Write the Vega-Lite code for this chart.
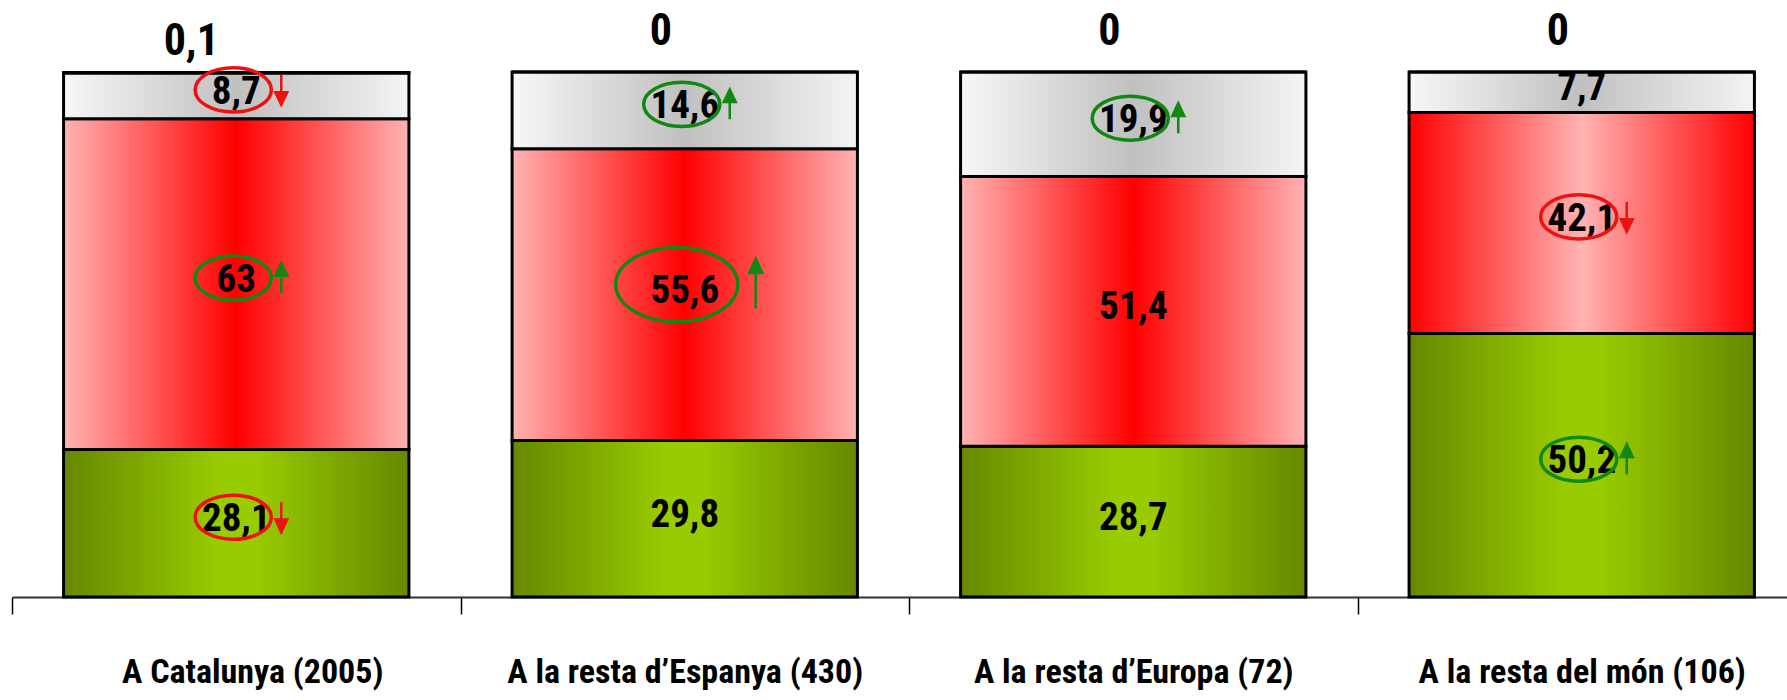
{
  "$schema": "https://vega.github.io/schema/vega-lite/v6.json",
  "autosize": "none",
  "width": 1775,
  "height": 525,
  "padding": {"left": 12, "right": 0, "top": 72, "bottom": 103},
  "background": "white",
  "config": {
    "view": {"stroke": null},
    "locale": {"number": {"decimal": ",", "thousands": ".", "grouping": [3], "currency": ["", " €"]}}
  },
  "data": {
    "values": [
      {"cat": "A Catalunya (2005)", "seg": "verd", "ord": 1, "value": 28.1, "trend": "down"},
      {"cat": "A Catalunya (2005)", "seg": "vermell", "ord": 2, "value": 63, "trend": "up"},
      {"cat": "A Catalunya (2005)", "seg": "gris", "ord": 3, "value": 8.7, "trend": "down"},
      {"cat": "A Catalunya (2005)", "seg": "altres", "ord": 4, "value": 0.1, "trend": null},
      {"cat": "A la resta d’Espanya (430)", "seg": "verd", "ord": 1, "value": 29.8, "trend": null},
      {"cat": "A la resta d’Espanya (430)", "seg": "vermell", "ord": 2, "value": 55.6, "trend": "up"},
      {"cat": "A la resta d’Espanya (430)", "seg": "gris", "ord": 3, "value": 14.6, "trend": "up"},
      {"cat": "A la resta d’Espanya (430)", "seg": "altres", "ord": 4, "value": 0, "trend": null},
      {"cat": "A la resta d’Europa (72)", "seg": "verd", "ord": 1, "value": 28.7, "trend": null},
      {"cat": "A la resta d’Europa (72)", "seg": "vermell", "ord": 2, "value": 51.4, "trend": null},
      {"cat": "A la resta d’Europa (72)", "seg": "gris", "ord": 3, "value": 19.9, "trend": "up"},
      {"cat": "A la resta d’Europa (72)", "seg": "altres", "ord": 4, "value": 0, "trend": null},
      {"cat": "A la resta del món (106)", "seg": "verd", "ord": 1, "value": 50.2, "trend": "up"},
      {"cat": "A la resta del món (106)", "seg": "vermell", "ord": 2, "value": 42.1, "trend": "down"},
      {"cat": "A la resta del món (106)", "seg": "gris", "ord": 3, "value": 7.7, "trend": null},
      {"cat": "A la resta del món (106)", "seg": "altres", "ord": 4, "value": 0, "trend": null}
    ]
  },
  "transform": [
    {"stack": "value", "groupby": ["cat"], "sort": [{"field": "ord", "order": "ascending"}], "as": ["y0", "y1"]},
    {"fold": ["y0", "y1"], "as": ["edge", "pos"]},
    {"aggregate": [
      {"op": "mean", "field": "pos", "as": "mid"},
      {"op": "min", "field": "pos", "as": "lo"},
      {"op": "max", "field": "pos", "as": "hi"}
    ], "groupby": ["cat", "seg", "ord", "value", "trend"]}
  ],
  "encoding": {
    "x": {
      "field": "cat",
      "type": "nominal",
      "sort": ["A Catalunya (2005)", "A la resta d’Espanya (430)", "A la resta d’Europa (72)", "A la resta del món (106)"],
      "scale": {"range": [0, 1794], "paddingInner": 0, "paddingOuter": 0},
      "axis": {
        "title": null,
        "tickBand": "extent",
        "tickSize": 17,
        "tickColor": "#000",
        "tickWidth": 1.5,
        "domainColor": "#333",
        "domainWidth": 2,
        "labelFont": "Roboto Condensed",
        "labelFontSize": 34,
        "labelFontWeight": "bold",
        "labelColor": "#000",
        "labelPadding": 41,
        "labelOffset": {"condition": {"test": "datum.value == 'A Catalunya (2005)'", "value": 16}, "value": 0},
        "labelAngle": 0,
        "labelLimit": 0
      }
    }
  },
  "layer": [
    {
      "transform": [{"filter": "datum.seg == 'verd'"}],
      "mark": {"type": "bar", "width": {"band": 0.77}, "stroke": "#000", "strokeWidth": 3,
        "fill": {"gradient": "linear", "x1": 0, "y1": 0, "x2": 1, "y2": 0,
          "stops": [{"offset": 0, "color": "#668800"}, {"offset": 0.45, "color": "#99CC00"}, {"offset": 0.55, "color": "#99CC00"}, {"offset": 1, "color": "#668800"}]}},
      "encoding": {
        "y": {"field": "lo", "type": "quantitative", "scale": {"domain": [0, 100], "nice": false}, "axis": null},
        "y2": {"field": "hi"}
      }
    },
    {
      "transform": [{"filter": "datum.seg == 'vermell' && datum.cat != 'A la resta del món (106)'"}],
      "mark": {"type": "bar", "width": {"band": 0.77}, "stroke": "#000", "strokeWidth": 3,
        "fill": {"gradient": "linear", "x1": 0, "y1": 0, "x2": 1, "y2": 0,
          "stops": [{"offset": 0, "color": "#FFB3B3"}, {"offset": 0.5, "color": "#FF0000"}, {"offset": 1, "color": "#FFB3B3"}]}},
      "encoding": {
        "y": {"field": "lo", "type": "quantitative", "axis": null},
        "y2": {"field": "hi"}
      }
    },
    {
      "transform": [{"filter": "datum.seg == 'vermell' && datum.cat == 'A la resta del món (106)'"}],
      "mark": {"type": "bar", "width": {"band": 0.77}, "stroke": "#000", "strokeWidth": 3,
        "fill": {"gradient": "linear", "x1": 0, "y1": 0, "x2": 1, "y2": 0,
          "stops": [{"offset": 0, "color": "#FF0000"}, {"offset": 0.5, "color": "#FFB3B3"}, {"offset": 1, "color": "#FF0000"}]}},
      "encoding": {
        "y": {"field": "lo", "type": "quantitative", "axis": null},
        "y2": {"field": "hi"}
      }
    },
    {
      "transform": [{"filter": "datum.seg == 'gris' || datum.seg == 'altres'"}],
      "mark": {"type": "bar", "width": {"band": 0.77}, "stroke": "#000", "strokeWidth": 3,
        "fill": {"gradient": "linear", "x1": 0, "y1": 0, "x2": 1, "y2": 0,
          "stops": [{"offset": 0, "color": "#F7F7F7"}, {"offset": 0.5, "color": "#C0C0C0"}, {"offset": 1, "color": "#F4F4F4"}]}},
      "encoding": {
        "y": {"field": "lo", "type": "quantitative", "axis": null},
        "y2": {"field": "hi"}
      }
    },
    {
      "transform": [{"filter": "datum.seg != 'altres'"}],
      "mark": {"type": "text", "font": "Roboto Condensed", "fontSize": 39, "fontWeight": "bold", "color": "#000", "baseline": "middle", "align": "center", "yOffset": -4},
      "encoding": {
        "y": {"field": "mid", "type": "quantitative", "axis": null},
        "text": {"field": "value", "type": "quantitative", "format": ".3~g"}
      }
    },
    {
      "transform": [{"filter": "isValid(datum.trend) && !(datum.seg == 'vermell' && datum.cat == 'A la resta d’Espanya (430)')"}],
      "mark": {"type": "point", "filled": false, "opacity": 1, "strokeWidth": 3.5, "size": 5800, "xOffset": -3, "yOffset": -6,
        "shape": "M-1,0A1,0.58 0 1,1 1,0A1,0.58 0 1,1 -1,0Z"},
      "encoding": {
        "y": {"field": "mid", "type": "quantitative", "axis": null},
        "stroke": {"field": "trend", "type": "nominal", "scale": {"domain": ["up", "down"], "range": ["#118811", "#EE1111"]}, "legend": null}
      }
    },
    {
      "transform": [{"filter": "datum.seg == 'vermell' && datum.cat == 'A la resta d’Espanya (430)'"}],
      "mark": {"type": "point", "filled": false, "opacity": 1, "strokeWidth": 3.5, "size": 14884, "xOffset": -8, "yOffset": -10,
        "shape": "M-1,0A1,0.61 0 1,1 1,0A1,0.61 0 1,1 -1,0Z"},
      "encoding": {
        "y": {"field": "mid", "type": "quantitative", "axis": null},
        "stroke": {"field": "trend", "type": "nominal", "legend": null}
      }
    },
    {
      "transform": [{"filter": "isValid(datum.trend) && !(datum.seg == 'vermell' && datum.cat == 'A la resta d’Espanya (430)')"}],
      "mark": {"type": "point", "filled": true, "opacity": 1, "strokeWidth": 2.5, "size": 900, "xOffset": 45, "yOffset": -6},
      "encoding": {
        "y": {"field": "mid", "type": "quantitative", "axis": null},
        "shape": {"field": "trend", "type": "nominal", "scale": {"domain": ["up", "down"], "range": ["M0,1L0,-0.2M-0.4,-0.15L0,-1L0.4,-0.15Z", "M0,-1L0,0.2M-0.4,0.15L0,1L0.4,0.15Z"]}, "legend": null},
        "fill": {"field": "trend", "type": "nominal", "scale": {"domain": ["up", "down"], "range": ["#118811", "#EE1111"]}, "legend": null},
        "stroke": {"field": "trend", "type": "nominal", "legend": null}
      }
    },
    {
      "transform": [{"filter": "datum.seg == 'vermell' && datum.cat == 'A la resta d’Espanya (430)'"}],
      "mark": {"type": "point", "filled": true, "opacity": 1, "strokeWidth": 2.5, "size": 2500, "xOffset": 71, "yOffset": -11,
        "shape": "M0,1L0,-0.45M-0.26,-0.42L0,-1L0.26,-0.42Z", "color": "#118811", "stroke": "#118811"},
      "encoding": {
        "y": {"field": "mid", "type": "quantitative", "axis": null}
      }
    },
    {
      "transform": [{"filter": "datum.seg == 'altres' && datum.cat != 'A Catalunya (2005)'"}],
      "mark": {"type": "text", "font": "Roboto Condensed", "fontSize": 44, "fontWeight": "bold", "color": "#000", "baseline": "middle", "align": "center", "dx": -24, "dy": -40},
      "encoding": {
        "y": {"field": "hi", "type": "quantitative", "axis": null},
        "text": {"field": "value", "type": "quantitative", "format": ".3~g"}
      }
    },
    {
      "transform": [{"filter": "datum.seg == 'altres' && datum.cat == 'A Catalunya (2005)'"}],
      "mark": {"type": "text", "font": "Roboto Condensed", "fontSize": 44, "fontWeight": "bold", "color": "#000", "baseline": "middle", "align": "center", "dx": -45, "dy": -31},
      "encoding": {
        "y": {"field": "hi", "type": "quantitative", "axis": null},
        "text": {"field": "value", "type": "quantitative", "format": ".3~g"}
      }
    }
  ]
}
